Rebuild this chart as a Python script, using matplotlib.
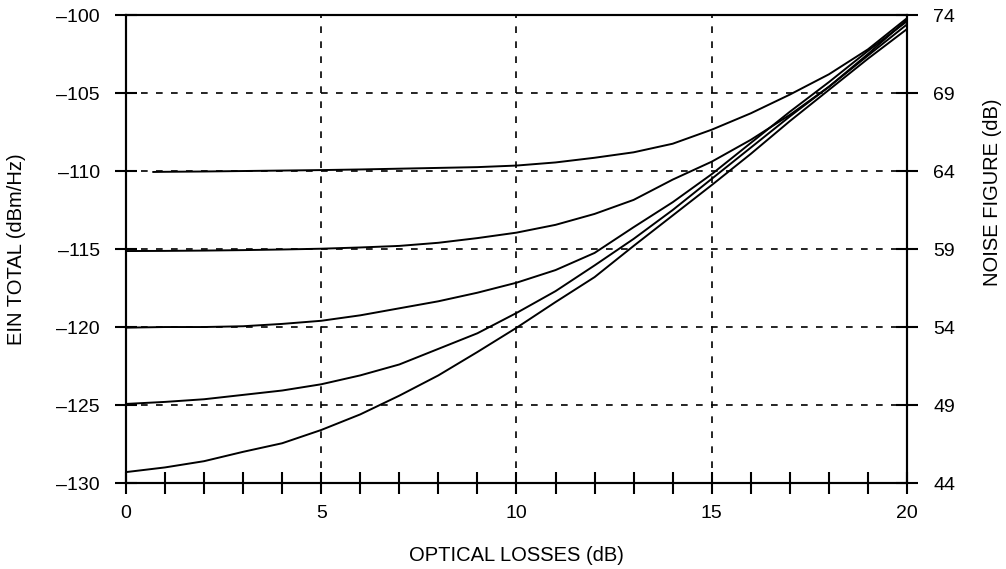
import numpy as np
from matplotlib import pyplot as plt
from matplotlib.ticker import MultipleLocator, FuncFormatter

plt.rcParams['font.family'] = ['Liberation Sans', 'DejaVu Sans']

# optical losses (dB)
loss = [0, 1, 2, 3, 4, 5, 6, 7, 8, 9, 10, 11, 12, 13, 14, 15, 16, 17, 18, 19, 20]
loss_top = [0.7, 1, 2, 3, 4, 5, 6, 7, 8, 9, 10, 11, 12, 13, 14, 15, 16, 17, 18, 19, 20]

# EIN total (dBm/Hz), one curve per noise floor
ein_110 = [-110.06, -110.05, -110.03, -110.0, -109.97, -109.94, -109.9, -109.85, -109.8, -109.75,
           -109.65, -109.45, -109.15, -108.8, -108.25, -107.35, -106.3, -105.1, -103.8, -102.2, -100.2]
ein_115 = [-115.13, -115.12, -115.1, -115.07, -115.03, -114.98, -114.9, -114.8, -114.6, -114.3,
           -113.95, -113.45, -112.75, -111.85, -110.55, -109.4, -108.0, -106.4, -104.6, -102.5, -100.3]
ein_120 = [-120.04, -120.0, -120.0, -119.95, -119.8, -119.6, -119.25, -118.8, -118.35, -117.8,
           -117.16, -116.35, -115.25, -113.6, -112.0, -110.2, -108.2, -106.2, -104.3, -102.3, -100.4]
ein_125 = [-124.93, -124.8, -124.63, -124.35, -124.07, -123.67, -123.1, -122.4, -121.4, -120.4,
           -119.1, -117.7, -116.05, -114.35, -112.5, -110.5, -108.5, -106.5, -104.6, -102.6, -100.6]
ein_129 = [-129.3, -129.0, -128.6, -128.0, -127.45, -126.6, -125.6, -124.4, -123.1, -121.6,
           -120.05, -118.4, -116.8, -114.8, -112.85, -110.9, -108.9, -106.8, -104.8, -102.8, -100.9]

left_ticks = [-130, -125, -120, -115, -110, -105, -100]
right_ticks = [44, 49, 54, 59, 64, 69, 74]

fig = plt.figure(figsize=(10.06, 5.69), dpi=100)
ax = fig.add_axes([0.1252, 0.1511, 0.7764, 0.8225])

for x, y in [(loss_top, ein_110), (loss, ein_115), (loss, ein_120), (loss, ein_125), (loss, ein_129)]:
    ax.plot(x, y, color='black', lw=1.4, solid_joinstyle='round')

ax.set_xlim(0, 20)
ax.set_ylim(-130, -100)
ax.set_xticks([0, 5, 10, 15, 20])
ax.xaxis.set_minor_locator(MultipleLocator(1))
ax.set_yticks(left_ticks)
ax.yaxis.set_major_formatter(FuncFormatter(lambda v, p: f'{v:.0f}'.replace('-', '\u2013')))

ax.grid(True, which='major', color='black', lw=1.2, linestyle=(0, (4, 5)))
ax.set_axisbelow(False)

for s in ax.spines.values():
    s.set_linewidth(1.5)

ax.tick_params(axis='both', which='both', direction='inout', length=15.6, width=1.5,
               labelsize=14, top=False, right=False)
ax.tick_params(axis='x', pad=8)
ax.tick_params(axis='y', pad=11)

ax.set_xlabel('OPTICAL LOSSES (dB)', fontsize=14.5, va='center')
ax.xaxis.set_label_coords(0.5, (483 - 555) / 468)
ax.set_ylabel('EIN TOTAL (dBm/Hz)', fontsize=14.5, va='center')
ax.yaxis.set_label_coords((17 - 126) / 781, 0.5)

# right axis: noise figure
ax2 = ax.twinx()
ax2.set_ylim(44, 74)
ax2.set_yticks(right_ticks)
ax2.tick_params(axis='y', direction='inout', length=15.6, width=1.5, labelsize=14, pad=11)
for s in ax2.spines.values():
    s.set_linewidth(1.5)
ax2.set_ylabel('NOISE FIGURE (dB)', fontsize=14.5, va='center')
ax2.yaxis.set_label_coords((992 - 126) / 781, (483 - 192) / 468)

fig.savefig('out.png', dpi=100)
